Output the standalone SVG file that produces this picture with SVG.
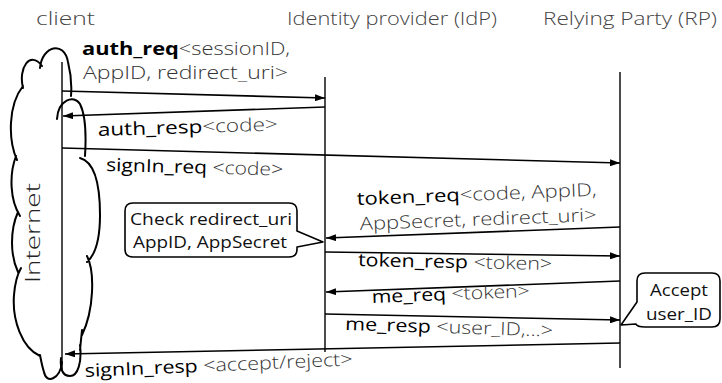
<svg xmlns="http://www.w3.org/2000/svg" width="722" height="383" viewBox="0 0 722 383">
<defs>
<marker id="ah" viewBox="0 0 10 7" refX="10" refY="3.5" markerWidth="10" markerHeight="7" markerUnits="userSpaceOnUse" orient="auto">
<path d="M0,0 L10,3.5 L0,7 z" fill="#000"/>
</marker>
<style>
.title{font-family:"Open Sans",Lato,sans-serif;font-size:18px;fill:#444;font-weight:300}
.lbl{font-family:"Open Sans",Lato,sans-serif;font-size:18px;fill:#111}
.nm{fill:#000;font-weight:500}
.bnm{fill:#000;font-weight:700}
.par{fill:#333;font-weight:300}
.life{stroke:#000;stroke-width:1.4;fill:none}
.msg{stroke:#000;stroke-width:1.6;fill:none;marker-end:url(#ah)}
.cloud{stroke:#000;stroke-width:2;fill:none;stroke-linecap:round}
.call{stroke:#000;stroke-width:1.6;fill:#fff;stroke-linejoin:round}
.ct{font-family:"Open Sans",Lato,sans-serif;font-size:17px;fill:#111;font-weight:400}
</style>
</defs>
<rect width="722" height="383" fill="#fff"/>

<g id="client">
<text class="title" x="36" y="25" textLength="59" lengthAdjust="spacingAndGlyphs">client</text>
<line class="life" x1="62" y1="62" x2="62" y2="371"/>
</g>
<g id="internet">
<path class="cloud" d="M23,88 C18,68 30,50 42,66 M40,68 C42,46 64,40 68,62 C71,74 72,84 71,96 M57,119 C58,100 74,94 80,104 C86,116 86,140 85,156 M80,158 C95,162 100,185 100,215 C100,240 95,255 87,262 M87,256 C95,272 94,310 82,335 M82,330 L80,350 M80,345 C82,362 78,376 70,376 C62,376 60,368 61,358 M62,362 C60,380 46,384 44,372 C42,366 41,360 40,355 M40,356 C22,348 12,320 14,295 C15,282 17,275 21,268 M18,272 C10,255 10,230 18,212 M20,216 C10,200 9,175 16,156 M17,160 C8,140 8,105 23,86"/>
<text x="0" y="0" transform="translate(40,233) rotate(-90)" text-anchor="middle" textLength="100" lengthAdjust="spacingAndGlyphs" style="font-family:'Open Sans',Lato,sans-serif;font-size:20px;fill:#222;font-weight:300">Internet</text>
</g>
<g id="idp">
<text class="title" x="287" y="25" textLength="210" lengthAdjust="spacingAndGlyphs">Identity provider (IdP)</text>
<line class="life" x1="325" y1="77" x2="325" y2="352"/>
</g>
<g id="rp">
<text class="title" x="543" y="25" textLength="174" lengthAdjust="spacingAndGlyphs">Relying Party (RP)</text>
<line class="life" x1="620" y1="72" x2="620" y2="368"/>
</g>

<g id="connectors">
<path class="msg" d="M62,91 L325,98"/>
<path class="msg" d="M325,107 L63,116"/>
<path class="msg" d="M62,148 L620,163"/>
<path class="msg" d="M620,227 L326,238"/>
<path class="msg" d="M325,252 L620,256"/>
<path class="msg" d="M620,281 L326,292"/>
<path class="msg" d="M325,314 L620,320"/>
<path class="msg" d="M620,343 L65,354"/>
</g>

<g id="labels">
<text class="lbl" x="82" y="55" textLength="208" lengthAdjust="spacingAndGlyphs"><tspan class="bnm">auth_req</tspan><tspan class="par">&lt;sessionID,</tspan></text>
<text class="lbl" x="83" y="79" textLength="205" lengthAdjust="spacingAndGlyphs"><tspan class="par">AppID, redirect_uri&gt;</tspan></text>
<text class="lbl" x="98" y="136" transform="rotate(-1.8,98,136)" textLength="180" lengthAdjust="spacingAndGlyphs"><tspan class="nm">auth_resp</tspan><tspan class="par">&lt;code&gt;</tspan></text>
<text class="lbl" x="106" y="171" transform="rotate(1.5,106,171)" textLength="177" lengthAdjust="spacingAndGlyphs"><tspan class="nm">signIn_req </tspan><tspan class="par">&lt;code&gt;</tspan></text>
<text class="lbl" x="357" y="205" transform="rotate(-2.2,357,205)" textLength="240" lengthAdjust="spacingAndGlyphs"><tspan class="nm">token_req</tspan><tspan class="par">&lt;code, AppID,</tspan></text>
<text class="lbl" x="360" y="230" transform="rotate(-2.2,360,230)" textLength="237" lengthAdjust="spacingAndGlyphs"><tspan class="par">AppSecret, redirect_uri&gt;</tspan></text>
<text class="lbl" x="358" y="266" transform="rotate(1.2,358,266)" textLength="194" lengthAdjust="spacingAndGlyphs"><tspan class="nm">token_resp </tspan><tspan class="par">&lt;token&gt;</tspan></text>
<text class="lbl" x="372" y="303" transform="rotate(-2.2,372,303)" textLength="158" lengthAdjust="spacingAndGlyphs"><tspan class="nm">me_req </tspan><tspan class="par">&lt;token&gt;</tspan></text>
<text class="lbl" x="345" y="330" transform="rotate(1.8,345,330)" textLength="208" lengthAdjust="spacingAndGlyphs"><tspan class="nm">me_resp </tspan><tspan class="par">&lt;user_ID,...&gt;</tspan></text>
<text class="lbl" x="85" y="377" transform="rotate(-2.5,85,377)" textLength="268" lengthAdjust="spacingAndGlyphs"><tspan class="nm">signIn_resp </tspan><tspan class="par">&lt;accept/reject&gt;</tspan></text>
</g>

<g id="check">
<path class="call" d="M133,203 L289,203 Q297,203 297,211 L297,231 L323,242 L297,247 L297,249 Q297,257 289,257 L133,257 Q125,257 125,249 L125,211 Q125,203 133,203 Z"/>
<text class="ct" x="130" y="225" textLength="162" lengthAdjust="spacingAndGlyphs">Check redirect_uri</text>
<text class="ct" x="133" y="248" textLength="154" lengthAdjust="spacingAndGlyphs">AppID, AppSecret</text>
</g>
<g id="accept">
<path class="call" d="M645,273 L712,273 Q720,273 720,281 L720,319 Q720,327 712,327 L645,327 Q637,327 636,324 L621,325 L637,302 L637,281 Q637,273 645,273 Z"/>
<text class="ct" x="650" y="296" textLength="58" lengthAdjust="spacingAndGlyphs">Accept</text>
<text class="ct" x="646" y="320" textLength="66" lengthAdjust="spacingAndGlyphs">user_ID</text>
</g>
</svg>
